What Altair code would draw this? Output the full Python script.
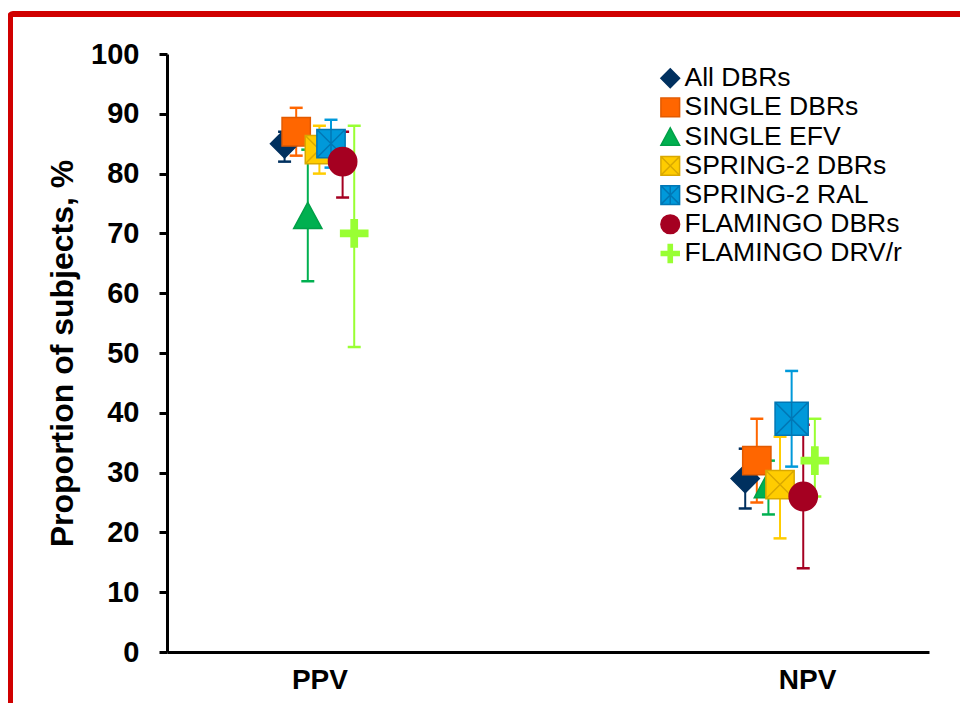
import altair as alt
import pandas as pd

# ---- data ----
metrics = ["PPV", "NPV"]
series = ["All DBRs", "SINGLE DBRs", "SINGLE EFV", "SPRING-2 DBRs",
          "SPRING-2 RAL", "FLAMINGO DBRs", "FLAMINGO DRV/r"]
ppv_est = [85, 87, 73, 84, 85, 82, 70]
ppv_low = [82, 83, 62, 80, 81, 76, 51]
ppv_high = [87, 91, 84, 88, 89, 87, 88]
npv_est = [29, 32, 28, 28, 39, 26, 32]
npv_low = [24, 25, 23, 19, 31, 14, 26]
npv_high = [34, 39, 32, 36, 47, 38, 39]
y_ticks = list(range(0, 101, 10))

# ---- styles ----
fill_colors = ["#00305F", "#FF6600", "#00B050", "#FFCC00", "#0099DA", "#A50021", "#99FF33"]
stroke_colors = ["#00305F", "#E25A00", "#00A048", "#D9A800", "#0077B5", "#A50021", "#99FF33"]
shapes = [
    "M0,-1L1,0L0,1L-1,0Z",
    "M-1,-1H1V1H-1Z",
    "M0,-0.93L1,0.93L-1,0.93Z",
    "M-1,-1H1V1H-1Z M-1,-1L1,1 M1,-1L-1,1",
    "M-1,-1H1V1H-1Z M-1,-1L1,1 M1,-1L-1,1 M0,-1V1",
    "circle",
    "M-0.96,-0.22H-0.22V-0.96H0.22V-0.22H0.96V0.22H0.22V0.96H-0.22V0.22H-0.96Z",
]
FONT = "Liberation Sans"

rows = []
for mi, (m, est, lo, hi) in enumerate(zip(metrics, [ppv_est, npv_est],
                                           [ppv_low, npv_low], [ppv_high, npv_high])):
    for si, s in enumerate(series):
        rows.append({"metric": m, "mi": mi, "series": s, "si": si,
                     "est": est[si], "low": lo[si], "high": hi[si]})
df = pd.DataFrame(rows)

color_expr = "[" + ",".join("'%s'" % c for c in fill_colors) + "][datum.si]"
base = alt.Chart(df).transform_calculate(
    xpos="20 + 60.45 * datum.mi + 1.523 * (datum.si - 3)",
    barcol=color_expr,
)

x_axis = alt.Axis(values=[20, 84], labelExpr="datum.value < 50 ? 'PPV' : 'NPV'",
                  ticks=False, tickSize=0, grid=False, title=None,
                  domainColor="black", domainWidth=3,
                  labelFont=FONT, labelFontSize=28, labelFontWeight="bold",
                  labelColor="black", labelPadding=14)
y_axis = alt.Axis(values=y_ticks, grid=False, title="Proportion of subjects, %",
                  domainColor="black", domainWidth=3,
                  tickColor="black", tickWidth=3, tickSize=8,
                  labelFont=FONT, labelFontSize=29, labelFontWeight="bold",
                  labelColor="black", labelPadding=20,
                  titleFont=FONT, titleFontSize=32, titleFontWeight="bold",
                  titleColor="black", titlePadding=11)
x_scale = alt.Scale(domain=[0, 100], nice=False, zero=False)
y_scale = alt.Scale(domain=[0, 100], nice=False)

X = alt.X("xpos:Q", scale=x_scale, axis=x_axis)

rules = base.mark_rule(strokeWidth=2).encode(
    x=X,
    y=alt.Y("low:Q", scale=y_scale, axis=y_axis),
    y2="high:Q",
    stroke=alt.Stroke("barcol:N", scale=None),
)
caps_low = base.mark_tick(orient="horizontal", size=13, thickness=2.5, opacity=1).encode(
    x=X, y=alt.Y("low:Q", scale=y_scale, axis=y_axis),
    fill=alt.Fill("barcol:N", scale=None))
caps_high = base.mark_tick(orient="horizontal", size=13, thickness=2.5, opacity=1).encode(
    x=X, y=alt.Y("high:Q", scale=y_scale, axis=y_axis),
    fill=alt.Fill("barcol:N", scale=None))

points = base.mark_point(filled=True, opacity=1, strokeWidth=1.5).encode(
    x=X,
    y=alt.Y("est:Q", scale=y_scale, axis=y_axis),
    color=alt.Color("series:N", scale=alt.Scale(domain=series, range=fill_colors),
                    legend=alt.Legend(title=None)),
    stroke=alt.Stroke("series:N", scale=alt.Scale(domain=series, range=stroke_colors),
                      legend=alt.Legend(title=None)),
    shape=alt.Shape("series:N", scale=alt.Scale(domain=series, range=shapes),
                    legend=alt.Legend(title=None)),
    size=alt.condition("datum.series === 'SPRING-2 RAL' && datum.metric === 'NPV'",
                       alt.value(1100), alt.value(800)),
)

frame = alt.Chart(pd.DataFrame({"k": [0]})).mark_rect(
    fill="transparent", stroke="#D00000", strokeWidth=6, cornerRadius=3
).encode(x=alt.value(-157), x2=alt.value(820), y=alt.value(-40), y2=alt.value(700))

chart = alt.layer(frame, rules, caps_low, caps_high, points).properties(
    width=762, height=598,
    autosize=alt.AutoSizeParams(type="none"),
    padding={"left": 159, "top": 46, "right": 31, "bottom": 51},
    background="white",
).configure_view(strokeWidth=0).configure_legend(
    orient="none", legendX=490, legendY=11,
    labelFont=FONT, labelFontSize=26.5, labelColor="black", labelLimit=400,
    symbolSize=350, symbolStrokeWidth=1.5, rowPadding=2.2, labelOffset=1,
    padding=0,
)

chart.save("out.html", embed_options={"renderer": "svg", "actions": False})
